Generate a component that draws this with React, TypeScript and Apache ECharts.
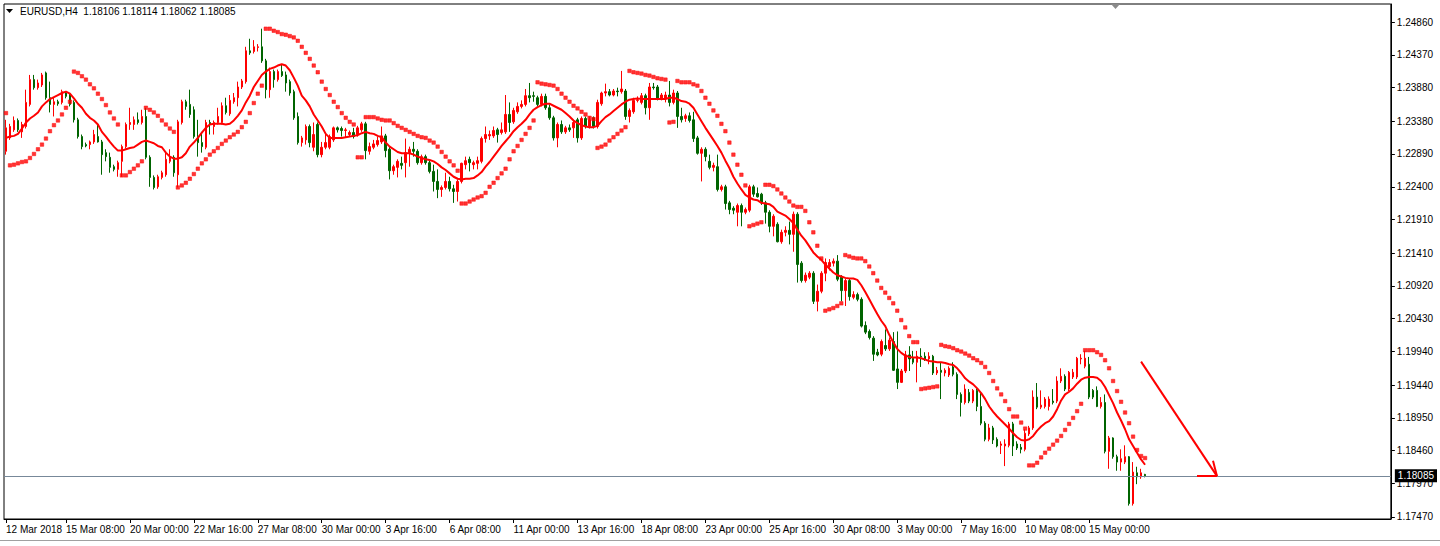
import React, { useEffect, useRef } from "react";
import * as echarts from "echarts";

const SYMBOL_LABEL = "EURUSD,H4";
const LAST_BAR_OHLC = ["1.18106", "1.18114", "1.18062", "1.18085"];
const BID_PRICE = 1.18085;
const PRICE_TICKS = [1.2486, 1.2437, 1.2388, 1.2338, 1.2289, 1.224, 1.2191, 1.2141, 1.2092, 1.2043, 1.1994, 1.1944, 1.1895, 1.1846, 1.1797, 1.1747];
const PRICE_MIN = 1.1744;
const PRICE_MAX = 1.25129;
const FIRST_BAR_UTC = Date.UTC(2018, 2, 12, 20, 0);
const FIRST_LABEL = "12 Mar 2018";
const LABEL_OFFSET = 15;
const LABEL_EVERY = 16;
const SHIFT_BARS = 61;
const MONTHS = ["Jan", "Feb", "Mar", "Apr", "May", "Jun", "Jul", "Aug", "Sep", "Oct", "Nov", "Dec"];

const OPEN = [
  1.2293, 1.2313, 1.2325, 1.2339, 1.2322, 1.2330, 1.2363, 1.2400, 1.2388, 1.2392,
  1.2410, 1.2373, 1.2363, 1.2367, 1.2366, 1.2380, 1.2377, 1.2366, 1.2340, 1.2315,
  1.2303, 1.2303, 1.2307, 1.2315, 1.2307, 1.2291, 1.2284, 1.2270, 1.2266, 1.2278,
  1.2300, 1.2333, 1.2333, 1.2340, 1.2336, 1.2345, 1.2284, 1.2254, 1.2240, 1.2254,
  1.2258, 1.2278, 1.2284, 1.2258, 1.2336, 1.2367, 1.2363, 1.2355, 1.2315, 1.2306,
  1.2299, 1.2336, 1.2330, 1.2336, 1.2336, 1.2361, 1.2349, 1.2367, 1.2373, 1.2389,
  1.2397, 1.2443, 1.2442, 1.2448, 1.2449, 1.2428, 1.2385, 1.2412, 1.2400, 1.2412,
  1.2407, 1.2397, 1.2382, 1.2345, 1.2306, 1.2310, 1.2330, 1.2299, 1.2333, 1.2288,
  1.2299, 1.2299, 1.2310, 1.2328, 1.2327, 1.2324, 1.2318, 1.2321, 1.2318, 1.2325,
  1.2334, 1.2293, 1.2299, 1.2303, 1.2307, 1.2316, 1.2296, 1.2264, 1.2269, 1.2275,
  1.2276, 1.2291, 1.2296, 1.2293, 1.2276, 1.2285, 1.2276, 1.2263, 1.2248, 1.2236,
  1.2239, 1.2248, 1.2237, 1.2233, 1.2248, 1.2273, 1.2281, 1.2273, 1.2275, 1.2278,
  1.2312, 1.2316, 1.2316, 1.2325, 1.2321, 1.2322, 1.2348, 1.2337, 1.2352, 1.2360,
  1.2363, 1.2376, 1.2376, 1.2373, 1.2363, 1.2375, 1.2358, 1.2343, 1.2313, 1.2333,
  1.2322, 1.2328, 1.2328, 1.2340, 1.2313, 1.2342, 1.2330, 1.2343, 1.2330, 1.2364,
  1.2380, 1.2382, 1.2377, 1.2383, 1.2382, 1.2383, 1.2345, 1.2352, 1.2369, 1.2366,
  1.2376, 1.2358, 1.2389, 1.2389, 1.2372, 1.2372, 1.2377, 1.2366, 1.2380, 1.2345,
  1.2342, 1.2346, 1.2340, 1.2313, 1.2290, 1.2296, 1.2278, 1.2269, 1.2270, 1.2236,
  1.2240, 1.2216, 1.2208, 1.2202, 1.2212, 1.2202, 1.2205, 1.2240, 1.2230, 1.2229,
  1.2216, 1.2202, 1.2181, 1.2184, 1.2158, 1.2172, 1.2175, 1.2169, 1.2199, 1.2126,
  1.2100, 1.2105, 1.2111, 1.2069, 1.2084, 1.2111, 1.2121, 1.2126, 1.2129, 1.2105,
  1.2085, 1.2100, 1.2075, 1.2079, 1.2072, 1.2033, 1.2024, 1.2014, 1.1993, 1.1990,
  1.2003, 1.1998, 1.2009, 1.1968, 1.1948, 1.1965, 1.1989, 1.1984, 1.1978, 1.1987,
  1.1987, 1.1983, 1.1987, 1.1962, 1.1966, 1.1962, 1.1959, 1.1971, 1.1960, 1.1930,
  1.1918, 1.1933, 1.1920, 1.1936, 1.1912, 1.1887, 1.1863, 1.1880, 1.1863, 1.1854,
  1.1853, 1.1854, 1.1886, 1.1856, 1.1851, 1.1848, 1.1871, 1.1880, 1.1926, 1.1911,
  1.1912, 1.1912, 1.1920, 1.1920, 1.1950, 1.1957, 1.1938, 1.1956, 1.1956, 1.1983,
  1.1972, 1.1975, 1.1936, 1.1936, 1.1912, 1.1918, 1.1845, 1.1865, 1.1837, 1.1829,
  1.1829, 1.1837, 1.1767, 1.1813, 1.1807, 1.18106,
];

const CLOSE = [
  1.2328, 1.2330, 1.2339, 1.2325, 1.2333, 1.2366, 1.2400, 1.2388, 1.2395, 1.2407,
  1.2373, 1.2363, 1.2367, 1.2364, 1.2382, 1.2375, 1.2363, 1.2340, 1.2315, 1.2300,
  1.2301, 1.2307, 1.2318, 1.2307, 1.2288, 1.2285, 1.2269, 1.2266, 1.2276, 1.2300,
  1.2333, 1.2336, 1.2340, 1.2336, 1.2345, 1.2284, 1.2254, 1.2239, 1.2255, 1.2261,
  1.2281, 1.2285, 1.2261, 1.2337, 1.2367, 1.2360, 1.2348, 1.2315, 1.2306, 1.2300,
  1.2336, 1.2333, 1.2336, 1.2345, 1.2361, 1.2351, 1.2369, 1.2373, 1.2389, 1.2398,
  1.2443, 1.2440, 1.2449, 1.2449, 1.2428, 1.2385, 1.2412, 1.2400, 1.2412, 1.2406,
  1.2395, 1.2380, 1.2343, 1.2306, 1.2313, 1.2330, 1.2306, 1.2318, 1.2288, 1.2299,
  1.2306, 1.2315, 1.2328, 1.2325, 1.2324, 1.2325, 1.2321, 1.2315, 1.2328, 1.2334,
  1.2294, 1.2300, 1.2304, 1.2309, 1.2316, 1.2294, 1.2264, 1.2270, 1.2278, 1.2272,
  1.2291, 1.2296, 1.2293, 1.2276, 1.2285, 1.2276, 1.2263, 1.2248, 1.2236, 1.2239,
  1.2248, 1.2237, 1.2233, 1.2248, 1.2275, 1.2279, 1.2276, 1.2276, 1.2279, 1.2312,
  1.2318, 1.2318, 1.2324, 1.2318, 1.2325, 1.2348, 1.2336, 1.2354, 1.2360, 1.2363,
  1.2376, 1.2373, 1.2375, 1.2363, 1.2375, 1.2358, 1.2343, 1.2313, 1.2333, 1.2322,
  1.2328, 1.2325, 1.2336, 1.2313, 1.2342, 1.2330, 1.2340, 1.2330, 1.2366, 1.2380,
  1.2382, 1.2377, 1.2383, 1.2382, 1.2386, 1.2345, 1.2354, 1.2369, 1.2370, 1.2376,
  1.2358, 1.2389, 1.2388, 1.2372, 1.2377, 1.2377, 1.2366, 1.2380, 1.2345, 1.2340,
  1.2346, 1.2339, 1.2312, 1.2290, 1.2296, 1.2285, 1.2269, 1.2272, 1.2236, 1.2240,
  1.2215, 1.2206, 1.2205, 1.2212, 1.2202, 1.2206, 1.2240, 1.2229, 1.2225, 1.2216,
  1.2202, 1.2181, 1.2196, 1.2158, 1.2172, 1.2175, 1.2169, 1.2199, 1.2124, 1.2100,
  1.2108, 1.2111, 1.2069, 1.2084, 1.2111, 1.2127, 1.2127, 1.2129, 1.2102, 1.2085,
  1.2100, 1.2076, 1.2079, 1.2072, 1.2032, 1.2023, 1.2015, 1.1990, 1.1989, 1.2009,
  1.1998, 1.2011, 1.1966, 1.1948, 1.1965, 1.1989, 1.1983, 1.1978, 1.1987, 1.1986,
  1.1983, 1.1987, 1.1962, 1.1966, 1.1963, 1.1966, 1.1969, 1.1960, 1.1930, 1.1918,
  1.1938, 1.1920, 1.1936, 1.1912, 1.1887, 1.1863, 1.1880, 1.1862, 1.1853, 1.1856,
  1.1856, 1.1886, 1.1853, 1.1850, 1.1848, 1.1872, 1.1880, 1.1926, 1.1911, 1.1914,
  1.1923, 1.1923, 1.1918, 1.1950, 1.1957, 1.1938, 1.1963, 1.1963, 1.1984, 1.1984,
  1.1984, 1.1926, 1.1926, 1.1912, 1.1918, 1.1845, 1.1865, 1.1837, 1.1829, 1.1834,
  1.1837, 1.1767, 1.1814, 1.1807, 1.1813, 1.18085,
];

const HIGH = [
  1.2340, 1.2334, 1.2345, 1.2342, 1.2337, 1.2385, 1.2407, 1.2407, 1.2400, 1.2410,
  1.2412, 1.2397, 1.2373, 1.2370, 1.2385, 1.2383, 1.2380, 1.2369, 1.2343, 1.2318,
  1.2306, 1.2309, 1.2325, 1.2333, 1.2310, 1.2296, 1.2291, 1.2273, 1.2279, 1.2303,
  1.2336, 1.2358, 1.2345, 1.2351, 1.2355, 1.2358, 1.2287, 1.2257, 1.2258, 1.2264,
  1.2293, 1.2296, 1.2287, 1.2340, 1.2370, 1.2370, 1.2385, 1.2360, 1.2340, 1.2322,
  1.2340, 1.2340, 1.2339, 1.2358, 1.2366, 1.2373, 1.2377, 1.2380, 1.2397, 1.2401,
  1.2449, 1.2461, 1.2459, 1.2453, 1.2476, 1.2431, 1.2418, 1.2415, 1.2415, 1.2422,
  1.2412, 1.2400, 1.2385, 1.2351, 1.2316, 1.2333, 1.2333, 1.2336, 1.2336, 1.2307,
  1.2321, 1.2318, 1.2330, 1.2330, 1.2330, 1.2328, 1.2324, 1.2328, 1.2331, 1.2337,
  1.2337, 1.2306, 1.2310, 1.2315, 1.2330, 1.2319, 1.2300, 1.2273, 1.2281, 1.2285,
  1.2312, 1.2300, 1.2307, 1.2296, 1.2288, 1.2288, 1.2281, 1.2273, 1.2266, 1.2242,
  1.2261, 1.2255, 1.2243, 1.2251, 1.2276, 1.2285, 1.2285, 1.2279, 1.2285, 1.2315,
  1.2330, 1.2324, 1.2330, 1.2328, 1.2336, 1.2377, 1.2366, 1.2358, 1.2366, 1.2369,
  1.2386, 1.2395, 1.2382, 1.2376, 1.2379, 1.2379, 1.2363, 1.2346, 1.2336, 1.2339,
  1.2331, 1.2333, 1.2340, 1.2343, 1.2345, 1.2345, 1.2345, 1.2345, 1.2370, 1.2382,
  1.2394, 1.2386, 1.2386, 1.2388, 1.2413, 1.2386, 1.2357, 1.2373, 1.2375, 1.2380,
  1.2379, 1.2395, 1.2395, 1.2392, 1.2380, 1.2382, 1.2398, 1.2385, 1.2383, 1.2358,
  1.2349, 1.2351, 1.2352, 1.2316, 1.2299, 1.2299, 1.2288, 1.2276, 1.2288, 1.2243,
  1.2243, 1.2219, 1.2211, 1.2215, 1.2215, 1.2209, 1.2243, 1.2243, 1.2239, 1.2231,
  1.2219, 1.2205, 1.2199, 1.2187, 1.2176, 1.2181, 1.2188, 1.2203, 1.2202, 1.2129,
  1.2112, 1.2114, 1.2114, 1.2094, 1.2114, 1.2133, 1.2132, 1.2133, 1.2138, 1.2108,
  1.2103, 1.2103, 1.2084, 1.2082, 1.2075, 1.2039, 1.2027, 1.2017, 1.1998, 1.2012,
  1.2027, 1.2015, 1.2023, 1.2024, 1.1968, 1.1995, 1.2002, 1.1995, 1.1995, 1.1999,
  1.1993, 1.1993, 1.1989, 1.1971, 1.1978, 1.1969, 1.1972, 1.1978, 1.1963, 1.1933,
  1.1945, 1.1938, 1.1938, 1.1939, 1.1933, 1.1890, 1.1886, 1.1883, 1.1866, 1.1860,
  1.1863, 1.1889, 1.1889, 1.1860, 1.1856, 1.1878, 1.1883, 1.1936, 1.1947, 1.1936,
  1.1926, 1.1927, 1.1938, 1.1957, 1.1969, 1.1960, 1.1965, 1.1968, 1.1986, 1.1990,
  1.1995, 1.1986, 1.1938, 1.1942, 1.1926, 1.1930, 1.1868, 1.1866, 1.1840, 1.1848,
  1.1854, 1.1838, 1.1829, 1.1822, 1.1819, 1.18114,
];

const LOW = [
  1.2288, 1.2310, 1.2322, 1.2322, 1.2313, 1.2327, 1.2360, 1.2385, 1.2385, 1.2389,
  1.2370, 1.2351, 1.2345, 1.2361, 1.2363, 1.2372, 1.2360, 1.2336, 1.2312, 1.2296,
  1.2299, 1.2296, 1.2304, 1.2306, 1.2258, 1.2278, 1.2261, 1.2263, 1.2255, 1.2255,
  1.2297, 1.2325, 1.2325, 1.2333, 1.2333, 1.2281, 1.2240, 1.2236, 1.2237, 1.2251,
  1.2255, 1.2275, 1.2255, 1.2239, 1.2333, 1.2355, 1.2343, 1.2312, 1.2285, 1.2291,
  1.2296, 1.2318, 1.2318, 1.2333, 1.2333, 1.2348, 1.2346, 1.2364, 1.2360, 1.2386,
  1.2394, 1.2437, 1.2439, 1.2442, 1.2425, 1.2372, 1.2373, 1.2388, 1.2397, 1.2404,
  1.2382, 1.2376, 1.2340, 1.2303, 1.2300, 1.2303, 1.2299, 1.2293, 1.2284, 1.2284,
  1.2296, 1.2296, 1.2307, 1.2321, 1.2315, 1.2313, 1.2315, 1.2312, 1.2315, 1.2322,
  1.2281, 1.2288, 1.2296, 1.2300, 1.2304, 1.2284, 1.2251, 1.2258, 1.2254, 1.2266,
  1.2254, 1.2270, 1.2285, 1.2273, 1.2273, 1.2273, 1.2260, 1.2233, 1.2223, 1.2225,
  1.2236, 1.2233, 1.2216, 1.2218, 1.2245, 1.2266, 1.2263, 1.2266, 1.2266, 1.2275,
  1.2306, 1.2310, 1.2313, 1.2306, 1.2318, 1.2319, 1.2322, 1.2334, 1.2349, 1.2357,
  1.2360, 1.2366, 1.2367, 1.2360, 1.2360, 1.2355, 1.2340, 1.2309, 1.2299, 1.2319,
  1.2319, 1.2322, 1.2313, 1.2306, 1.2310, 1.2327, 1.2327, 1.2327, 1.2327, 1.2361,
  1.2375, 1.2375, 1.2375, 1.2375, 1.2379, 1.2340, 1.2336, 1.2349, 1.2366, 1.2363,
  1.2348, 1.2340, 1.2385, 1.2369, 1.2369, 1.2366, 1.2360, 1.2363, 1.2328, 1.2336,
  1.2337, 1.2336, 1.2307, 1.2288, 1.2248, 1.2278, 1.2266, 1.2263, 1.2233, 1.2233,
  1.2206, 1.2199, 1.2199, 1.2181, 1.2181, 1.2199, 1.2202, 1.2225, 1.2224, 1.2213,
  1.2185, 1.2172, 1.2166, 1.2157, 1.2155, 1.2166, 1.2154, 1.2143, 1.2097, 1.2097,
  1.2097, 1.2102, 1.2065, 1.2054, 1.2081, 1.2099, 1.2115, 1.2121, 1.2099, 1.2069,
  1.2062, 1.2070, 1.2072, 1.2069, 1.2030, 1.2020, 1.2012, 1.1980, 1.1987, 1.1987,
  1.1995, 1.1995, 1.1965, 1.1938, 1.1947, 1.1962, 1.1965, 1.1975, 1.1948, 1.1971,
  1.1980, 1.1975, 1.1959, 1.1959, 1.1923, 1.1957, 1.1956, 1.1957, 1.1923, 1.1897,
  1.1915, 1.1917, 1.1917, 1.1905, 1.1884, 1.1860, 1.1860, 1.1856, 1.1851, 1.1841,
  1.1823, 1.1851, 1.1838, 1.1847, 1.1842, 1.1845, 1.1868, 1.1877, 1.1908, 1.1908,
  1.1909, 1.1906, 1.1915, 1.1917, 1.1947, 1.1935, 1.1935, 1.1953, 1.1953, 1.1975,
  1.1969, 1.1923, 1.1923, 1.1911, 1.1909, 1.1842, 1.1819, 1.1834, 1.1816, 1.1816,
  1.1826, 1.1764, 1.1764, 1.1796, 1.1804, 1.18062,
];

const MOVING_AVERAGE = [
  1.2313, 1.2315, 1.2316, 1.2319, 1.2327, 1.2336, 1.2342, 1.2346, 1.2351, 1.2360,
  1.2366, 1.2371, 1.2374, 1.2377, 1.2380, 1.2382, 1.2379, 1.2372, 1.2364, 1.2358,
  1.2349, 1.2343, 1.2339, 1.2333, 1.2322, 1.2315, 1.2307, 1.2300, 1.2294, 1.2294,
  1.2296, 1.2298, 1.2299, 1.2303, 1.2307, 1.2309, 1.2307, 1.2305, 1.2301, 1.2299,
  1.2291, 1.2285, 1.2282, 1.2282, 1.2284, 1.2290, 1.2300, 1.2306, 1.2313, 1.2321,
  1.2328, 1.2333, 1.2334, 1.2334, 1.2334, 1.2333, 1.2334, 1.2339, 1.2346, 1.2354,
  1.2366, 1.2376, 1.2389, 1.2398, 1.2407, 1.2412, 1.2416, 1.2418, 1.2421, 1.2423,
  1.2421, 1.2414, 1.2403, 1.2391, 1.2376, 1.2369, 1.2360, 1.2348, 1.2339, 1.2330,
  1.2319, 1.2313, 1.2313, 1.2313, 1.2313, 1.2314, 1.2315, 1.2316, 1.2317, 1.2320,
  1.2322, 1.2320, 1.2319, 1.2316, 1.2314, 1.2306, 1.2300, 1.2296, 1.2292, 1.2290,
  1.2290, 1.2290, 1.2288, 1.2285, 1.2283, 1.2281, 1.2280, 1.2278, 1.2274, 1.2269,
  1.2265, 1.2260, 1.2255, 1.2252, 1.2251, 1.2252, 1.2252, 1.2253, 1.2257, 1.2262,
  1.2270, 1.2277, 1.2285, 1.2293, 1.2301, 1.2308, 1.2315, 1.2323, 1.2329, 1.2334,
  1.2340, 1.2348, 1.2355, 1.2359, 1.2362, 1.2364, 1.2364, 1.2361, 1.2358, 1.2355,
  1.2350, 1.2345, 1.2339, 1.2335, 1.2332, 1.2330, 1.2329, 1.2329, 1.2331, 1.2338,
  1.2344, 1.2348, 1.2353, 1.2358, 1.2363, 1.2367, 1.2370, 1.2371, 1.2372, 1.2371,
  1.2371, 1.2371, 1.2371, 1.2371, 1.2371, 1.2371, 1.2373, 1.2373, 1.2371, 1.2368,
  1.2367, 1.2364, 1.2358, 1.2348, 1.2338, 1.2328, 1.2319, 1.2310, 1.2301, 1.2291,
  1.2279, 1.2268, 1.2255, 1.2245, 1.2236, 1.2228, 1.2224, 1.2221, 1.2220, 1.2216,
  1.2215, 1.2214, 1.2210, 1.2203, 1.2200, 1.2197, 1.2192, 1.2186, 1.2176, 1.2167,
  1.2160, 1.2151, 1.2142, 1.2136, 1.2131, 1.2124, 1.2118, 1.2112, 1.2108, 1.2106,
  1.2104, 1.2103, 1.2103, 1.2101, 1.2093, 1.2083, 1.2072, 1.2061, 1.2050, 1.2040,
  1.2032, 1.2019, 1.2008, 1.1998, 1.1992, 1.1988, 1.1986, 1.1985, 1.1985, 1.1984,
  1.1982, 1.1980, 1.1979, 1.1978, 1.1978, 1.1977, 1.1975, 1.1974, 1.1969, 1.1962,
  1.1954, 1.1949, 1.1945, 1.1939, 1.1932, 1.1923, 1.1912, 1.1904, 1.1897, 1.1891,
  1.1885, 1.1879, 1.1872, 1.1866, 1.1862, 1.1861, 1.1863, 1.1868, 1.1876, 1.1882,
  1.1887, 1.1890, 1.1897, 1.1908, 1.1921, 1.1930, 1.1934, 1.1939, 1.1946, 1.1952,
  1.1955, 1.1956, 1.1956, 1.1955, 1.1950, 1.1941, 1.1929, 1.1917, 1.1903, 1.1891,
  1.1878, 1.1863, 1.1853, 1.1843, 1.1833, 1.1825,
];

const PARABOLIC_SAR = [
  1.2350, 1.2272, 1.2273, 1.2275, 1.2277, 1.2278, 1.2283, 1.2289, 1.2296, 1.2303,
  1.2312, 1.2323, 1.2332, 1.2339, 1.2348, 1.2358, 1.2367, 1.2412, 1.2410, 1.2405,
  1.2400, 1.2393, 1.2387, 1.2379, 1.2371, 1.2362, 1.2351, 1.2342, 1.2333, 1.2257,
  1.2257, 1.2262, 1.2267, 1.2272, 1.2278, 1.2358, 1.2355, 1.2351, 1.2346, 1.2339,
  1.2333, 1.2327, 1.2322, 1.2239, 1.2242, 1.2246, 1.2252, 1.2259, 1.2267, 1.2275,
  1.2281, 1.2288, 1.2293, 1.2298, 1.2304, 1.2309, 1.2314, 1.2318, 1.2322, 1.2329,
  1.2337, 1.2350, 1.2365, 1.2379, 1.2391, 1.2476, 1.2476, 1.2473, 1.2471, 1.2468,
  1.2467, 1.2465, 1.2463, 1.2458, 1.2449, 1.2440, 1.2431, 1.2421, 1.2411, 1.2397,
  1.2386, 1.2377, 1.2367, 1.2359, 1.2350, 1.2343, 1.2337, 1.2333, 1.2284, 1.2284,
  1.2344, 1.2344, 1.2344, 1.2342, 1.2340, 1.2339, 1.2339, 1.2335, 1.2331, 1.2328,
  1.2325, 1.2322, 1.2319, 1.2316, 1.2314, 1.2313, 1.2309, 1.2306, 1.2300, 1.2292,
  1.2285, 1.2278, 1.2272, 1.2264, 1.2215, 1.2215, 1.2218, 1.2221, 1.2224, 1.2226,
  1.2231, 1.2240, 1.2246, 1.2253, 1.2260, 1.2267, 1.2281, 1.2293, 1.2301, 1.2310,
  1.2319, 1.2328, 1.2339, 1.2396, 1.2394, 1.2393, 1.2392, 1.2391, 1.2386, 1.2379,
  1.2373, 1.2367, 1.2361, 1.2357, 1.2352, 1.2348, 1.2343, 1.2341, 1.2298, 1.2300,
  1.2303, 1.2309, 1.2314, 1.2319, 1.2324, 1.2329, 1.2413, 1.2411, 1.2410, 1.2409,
  1.2407, 1.2406, 1.2404, 1.2402, 1.2401, 1.2400, 1.2336, 1.2337, 1.2398, 1.2396,
  1.2396, 1.2396, 1.2393, 1.2391, 1.2383, 1.2373, 1.2364, 1.2354, 1.2346, 1.2334,
  1.2323, 1.2306, 1.2288, 1.2273, 1.2258, 1.2242, 1.2181, 1.2183, 1.2185, 1.2187,
  1.2243, 1.2243, 1.2241, 1.2236, 1.2230, 1.2224, 1.2218, 1.2212, 1.2210, 1.2210,
  1.2204, 1.2187, 1.2172, 1.2152, 1.2133, 1.2055, 1.2057, 1.2059, 1.2062, 1.2066,
  1.2138, 1.2136, 1.2134, 1.2133, 1.2133, 1.2129, 1.2121, 1.2111, 1.2100, 1.2089,
  1.2082, 1.2074, 1.2066, 1.2055, 1.2041, 1.2030, 1.2017, 1.2008, 1.2008, 1.1938,
  1.1939, 1.1940, 1.1941, 1.1942, 1.2004, 1.2002, 1.2001, 1.1999, 1.1996, 1.1994,
  1.1991, 1.1988, 1.1984, 1.1981, 1.1977, 1.1971, 1.1962, 1.1950, 1.1939, 1.1930,
  1.1920, 1.1908, 1.1897, 1.1897, 1.1888, 1.1879, 1.1824, 1.1824, 1.1828, 1.1836,
  1.1843, 1.1849, 1.1855, 1.1861, 1.1868, 1.1877, 1.1886, 1.1895, 1.1905, 1.1916,
  1.1996, 1.1996, 1.1996, 1.1993, 1.1989, 1.1981, 1.1969, 1.1950, 1.1935, 1.1919,
  1.1903, 1.1887, 1.1867, 1.1847, 1.1838, 1.1835,
];

// Hand-drawn arrow annotation: [bar index, price]
const ARROW_START = [284, 1.1979];
const ARROW_TIP = [303, 1.1808];
const ARROW_HEAD_LEFT = [298, 1.1808];
const ARROW_HEAD_UP = [302, 1.1831];

const FONT = '"Liberation Sans", Arial, sans-serif';
const BULL = "#ff0000";
const BEAR = "#006400";

function pad2(n: number) {
  return n < 10 ? "0" + n : String(n);
}

function buildCategories(count: number): string[] {
  const out: string[] = [];
  let t = FIRST_BAR_UTC;
  while (out.length < count) {
    const d = new Date(t);
    const wd = d.getUTCDay();
    if (wd !== 0 && wd !== 6) {
      out.push(`${d.getUTCDate()} ${MONTHS[d.getUTCMonth()]} ${pad2(d.getUTCHours())}:${pad2(d.getUTCMinutes())}`);
    }
    t += 4 * 3600 * 1000;
  }
  return out;
}

export default function App() {
  const ref = useRef<HTMLDivElement>(null);

  useEffect(() => {
    if (!ref.current) return;
    const chart = echarts.init(ref.current, null, { renderer: "svg" });
    const barCount = OPEN.length;
    const categories = buildCategories(barCount + SHIFT_BARS);
    const candles = OPEN.map((o, i) => [o, CLOSE[i], LOW[i], HIGH[i]]);
    const showLabel = (idx: number) =>
      idx === 0 || (idx >= LABEL_OFFSET && (idx - LABEL_OFFSET) % LABEL_EVERY === 0 && idx < barCount);

    chart.setOption({
      animation: false,
      backgroundColor: "#ffffff",
      grid: {
        left: 4,
        right: 47,
        top: 4,
        bottom: 27,
        show: true,
        borderColor: "#000000",
        borderWidth: 1,
        backgroundColor: "#ffffff",
      },
      xAxis: {
        type: "category",
        data: categories,
        boundaryGap: true,
        axisLine: { show: true, lineStyle: { color: "#000", width: 1 } },
        axisTick: { show: true, alignWithLabel: true, interval: showLabel, length: 4, lineStyle: { color: "#000" } },
        axisLabel: {
          interval: showLabel,
          formatter: (v: string, idx: number) => (idx === 0 ? FIRST_LABEL : v),
          align: "left",
          margin: 5,
          color: "#000",
          fontSize: 10,
          fontFamily: FONT,
        },
        splitLine: { show: false },
      },
      yAxis: [
        {
          type: "value",
          position: "right",
          min: PRICE_MIN,
          max: PRICE_MAX,
          axisLine: { show: true, lineStyle: { color: "#000", width: 1 } },
          axisTick: { show: true, length: 4, customValues: PRICE_TICKS, lineStyle: { color: "#000" } },
          axisLabel: {
            customValues: PRICE_TICKS,
            formatter: (v: number) => v.toFixed(5),
            color: "#000",
            fontSize: 10,
            fontFamily: FONT,
            margin: 6,
          },
          splitLine: { show: false },
        },
        {
          type: "value",
          position: "right",
          min: PRICE_MIN,
          max: PRICE_MAX,
          axisLine: { show: false },
          axisTick: { show: false },
          axisLabel: {
            customValues: [BID_PRICE],
            formatter: (v: number) => v.toFixed(5),
            color: "#ffffff",
            backgroundColor: "#000000",
            padding: [2, 3, 1, 3],
            fontSize: 10,
            fontFamily: FONT,
            margin: 4,
          },
          splitLine: { show: false },
        },
      ],
      series: [
        {
          name: "Bid line",
          type: "line",
          yAxisIndex: 0,
          data: [],
          z: 1,
          markLine: {
            silent: true,
            symbol: "none",
            precision: 5,
            label: { show: false },
            lineStyle: { color: "#778899", width: 1, type: "solid" },
            data: [{ yAxis: BID_PRICE }],
          },
        },
        {
          name: SYMBOL_LABEL,
          type: "candlestick",
          yAxisIndex: 0,
          data: candles,
          barWidth: 2,
          z: 2,
          itemStyle: {
            color: BULL,
            color0: BEAR,
            borderColor: BULL,
            borderColor0: BEAR,
            borderColorDoji: BEAR,
            borderWidth: 1,
          },
        },
        {
          name: "MA",
          type: "line",
          yAxisIndex: 0,
          data: MOVING_AVERAGE,
          showSymbol: false,
          symbol: "none",
          z: 3,
          lineStyle: { color: "#ff0000", width: 2 },
          markLine: {
            silent: true,
            symbol: "none",
            precision: 5,
            label: { show: false },
            lineStyle: { color: "#ff0000", width: 2, type: "solid" },
            data: [
              [{ coord: ARROW_START }, { coord: ARROW_TIP }],
              [{ coord: ARROW_TIP }, { coord: ARROW_HEAD_LEFT }],
              [{ coord: ARROW_TIP }, { coord: ARROW_HEAD_UP }],
            ],
          },
        },
        {
          name: "Parabolic SAR",
          type: "scatter",
          yAxisIndex: 0,
          data: PARABOLIC_SAR,
          symbol: "rect",
          symbolSize: 3.5,
          z: 4,
          itemStyle: { color: "#ff0000", borderColor: "#ff0000", borderWidth: 0.6 },
        },
      ],
      graphic: [
        {
          type: "polygon",
          shape: { points: [[6, 9], [13, 9], [9.5, 13]] },
          style: { fill: "#000" },
        },
        {
          type: "text",
          x: 20,
          y: 6,
          style: {
            text: `${SYMBOL_LABEL}  ${LAST_BAR_OHLC.join(" ")}`,
            font: `10px ${FONT}`,
            fill: "#000",
          },
        },
        {
          type: "polygon",
          shape: { points: [[1111, 4], [1120, 4], [1115.5, 9]] },
          style: { fill: "#8a8a8a" },
        },
        {
          type: "line",
          shape: { x1: 0, y1: 540.5, x2: 1440, y2: 540.5 },
          style: { stroke: "#a0a0a0", lineWidth: 1 },
        },
      ],
    });

    return () => chart.dispose();
  }, []);

  return (
    <div
      ref={ref}
      style={{ position: "fixed", left: 0, top: 0, width: 1440, height: 546, background: "#fff" }}
    />
  );
}
